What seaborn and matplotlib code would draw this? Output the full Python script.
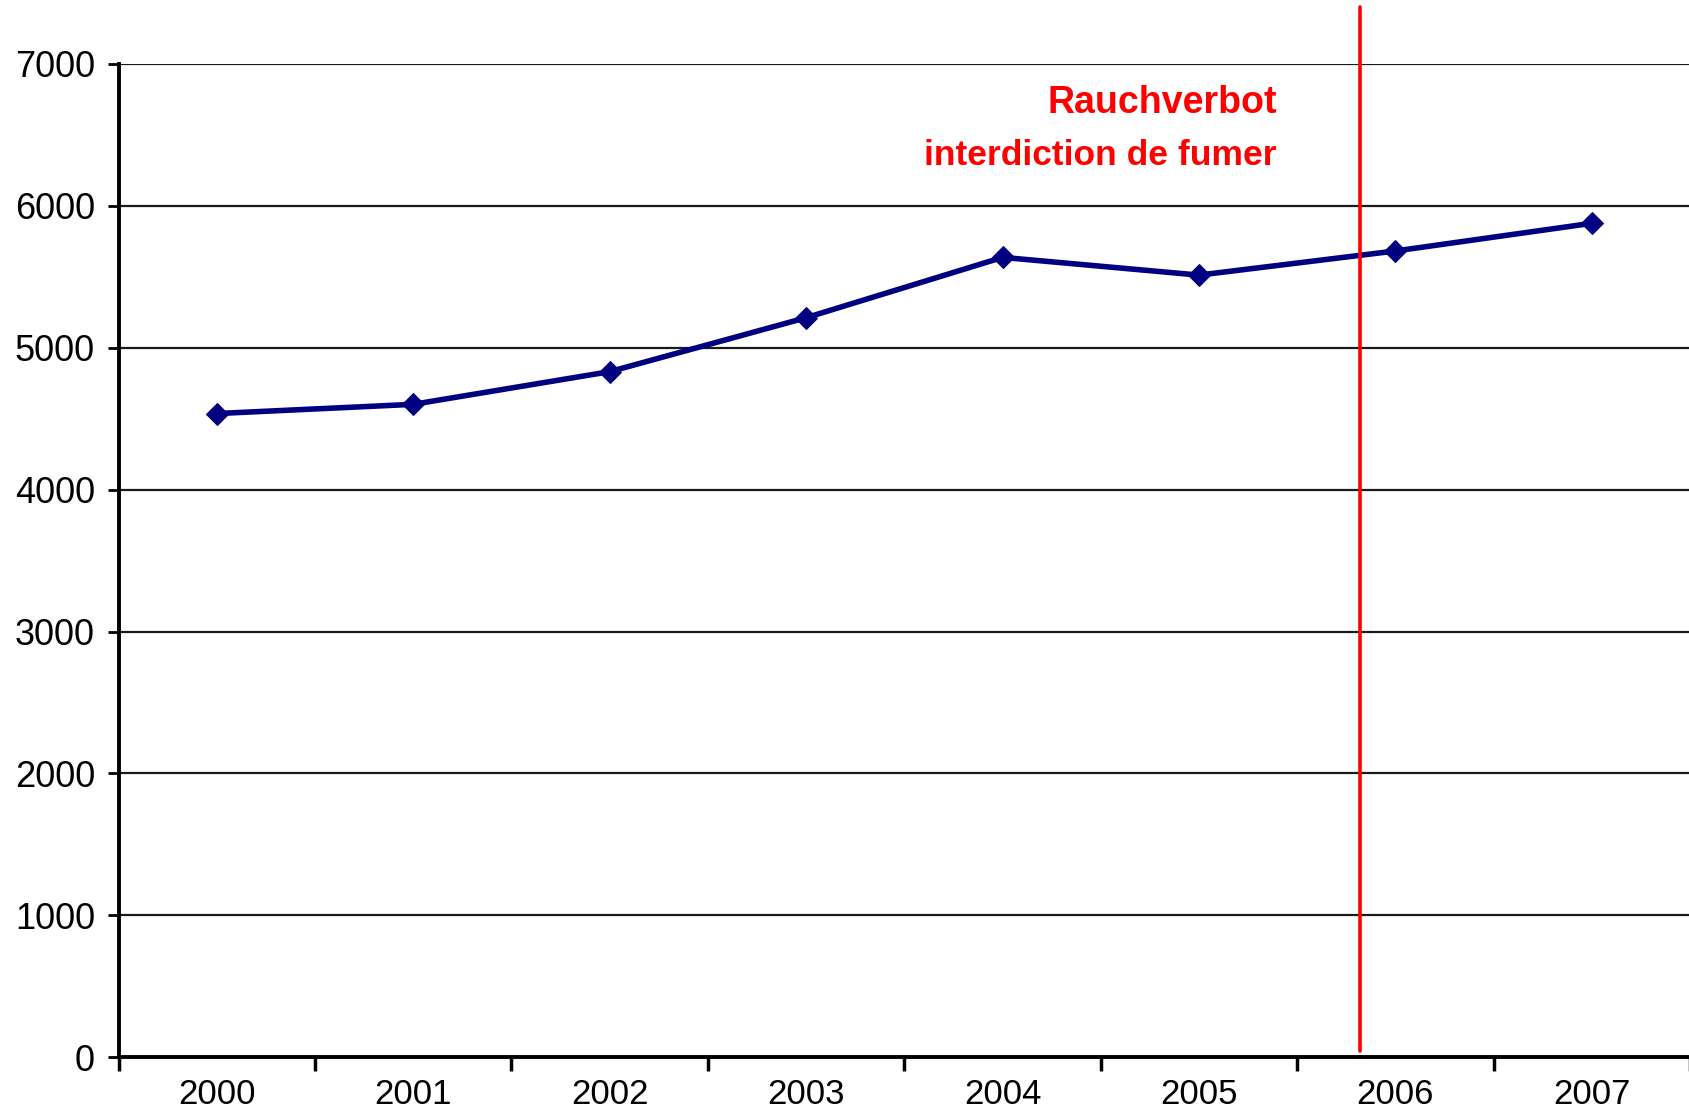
import matplotlib
matplotlib.use("Agg")
import matplotlib.pyplot as plt
from matplotlib.ticker import FixedLocator, NullFormatter
import seaborn as sns
import pandas as pd

years = ["2000", "2001", "2002", "2003", "2004", "2005", "2006", "2007"]
values = [4535, 4600, 4830, 5210, 5635, 5510, 5680, 5875]
y_ticks = [0, 1000, 2000, 3000, 4000, 5000, 6000, 7000]
ban_position = 5.82  # between 2005 and 2006, in category units
ban_label_1 = "Rauchverbot"
ban_label_2 = "interdiction de fumer"

sns.set_style("white")
plt.rcParams["font.family"] = ["Liberation Sans", "DejaVu Sans"]

df = pd.DataFrame({"Jahr": years, "Wert": values})

fig = plt.figure(figsize=(16.9, 11.15), dpi=100)
ax = fig.add_axes([0.0702, 0.0516, 0.9298, 0.8914])

sns.lineplot(data=df, x="Jahr", y="Wert", ax=ax, color="#000080",
             linewidth=4, marker="D", markersize=11, markeredgecolor="#000080",
             sort=False, zorder=5)

ax.set_xlim(-0.5, len(years) - 0.5)
ax.set_ylim(0, 7000)
ax.set_yticks(y_ticks)
ax.set_yticklabels([str(v) for v in y_ticks])
ax.yaxis.grid(True, color="#1a1a1a", linewidth=1.6)
ax.set_axisbelow(True)

ax.set_xticks(range(len(years)))
ax.set_xticklabels(years)
ax.xaxis.set_minor_locator(FixedLocator([i - 0.5 for i in range(len(years) + 1)]))
ax.xaxis.set_minor_formatter(NullFormatter())
ax.tick_params(axis="x", which="major", length=0, pad=15, labelsize=25,
               labelcolor="black")
ax.tick_params(axis="x", which="minor", length=10, width=2.5, color="black", bottom=True)
ax.tick_params(axis="y", which="major", length=8, width=2, color="black", pad=9,
               labelsize=26, labelcolor="black", left=True)

for side in ["top", "right"]:
    ax.spines[side].set_visible(False)
for side in ["left", "bottom"]:
    ax.spines[side].set_color("black")
    ax.spines[side].set_linewidth(2.8)

ax.set_xlabel("")
ax.set_ylabel("")

ax.axvline(ban_position, ymin=0.007, ymax=1.057, color="#ff0000", linewidth=2.6,
           clip_on=False, zorder=6)

ax.text(5.395, 6722, ban_label_1, color="#ff0000", fontsize=27, fontweight="bold",
        ha="right", va="center")
ax.text(5.395, 6349, ban_label_2, color="#ff0000", fontsize=25.5, fontweight="bold",
        ha="right", va="center")

fig.savefig("out.png", dpi=100)
